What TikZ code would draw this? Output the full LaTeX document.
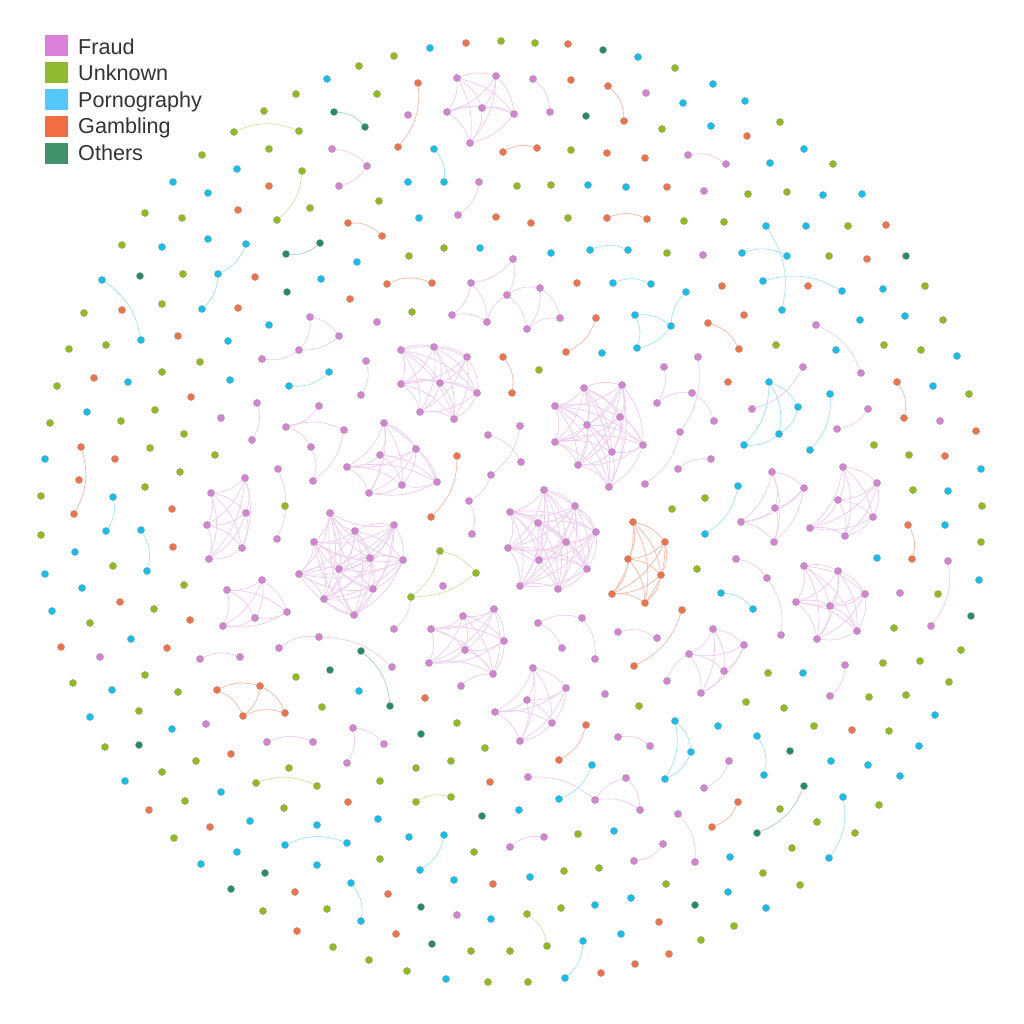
\documentclass[tikz,border=0pt]{standalone}
\usepackage{fontspec}
\setmainfont{Liberation Sans}
\definecolor{cF}{RGB}{214,128,214}
\definecolor{cU}{RGB}{146,188,20}
\definecolor{cP}{RGB}{8,194,242}
\definecolor{cG}{RGB}{246,112,70}
\definecolor{cO}{RGB}{34,140,102}
\definecolor{lF}{RGB}{218,128,218}
\definecolor{lU}{RGB}{144,186,50}
\definecolor{lP}{RGB}{85,200,250}
\definecolor{lG}{RGB}{240,110,65}
\definecolor{lO}{RGB}{64,146,108}
\pgfdeclarelayer{back}
\pgfdeclarelayer{bg}
\pgfsetlayers{back,bg,main}
\tikzset{
 dot/.style={circle,inner sep=0pt,minimum size=7.2pt,draw=black!35,line width=0.45pt},
 dF/.style={dot,fill=cF}, dU/.style={dot,fill=cU}, dP/.style={dot,fill=cP},
 dG/.style={dot,fill=cG}, dO/.style={dot,fill=cO},
 eF/.style={draw=cF!40,line width=0.7pt}, eU/.style={draw=cU!40,line width=0.7pt},
 eP/.style={draw=cP!40,line width=0.7pt}, eG/.style={draw=cG!50,line width=0.7pt},
 eO/.style={draw=cO!40,line width=0.7pt},
 lgbox/.style={inner sep=0pt,minimum width=22.3pt,minimum height=20.8pt,anchor=north west},
 lgtext/.style={inner sep=0pt,anchor=base west,text=black!80,font=\fontsize{21.6}{26}\selectfont}
}
\newcommand\fullgrp[3]{%
  \foreach [count=\k] \pp in {#3} {\node[d#2] (#1\k) at \pp {}; \xdef\mynn{\k}}%
  \begin{pgfonlayer}{bg}%
  \foreach \ii in {1,...,\mynn}{\foreach \jj in {1,...,\mynn}{\ifnum\ii<\jj\relax\draw[e#2] (#1\ii) to[bend left=18] (#1\jj);\fi}}%
  \end{pgfonlayer}}
\newcommand\edgegrp[4]{%
  \foreach [count=\k] \pp in {#3} {\node[d#2] (#1\k) at \pp {};}%
  \begin{pgfonlayer}{bg}%
  \foreach \ea/\eb in {#4} {\draw[e#2] (#1\ea) to[bend left=20] (#1\eb);}%
  \end{pgfonlayer}}
\begin{document}
\begin{tikzpicture}[x=1pt,y=-1pt]
\useasboundingbox (0,0) rectangle (1024,1024);
\begin{pgfonlayer}{back}\fill[white] (0,0) rectangle (1024,1024);\end{pgfonlayer}

% legend
\node[lgbox,fill=lF] (k1) at (45,34.7) {};
\node[lgbox,fill=lU] (k2) at (45,61.7) {};
\node[lgbox,fill=lP] (k3) at (45,88.7) {};
\node[lgbox,fill=lG] (k4) at (45,115.7) {};
\node[lgbox,fill=lO] (k5) at (45,142.7) {};
\node[lgtext] (t1) at (78,54.5) {Fraud};
\node[lgtext] (t2) at (78,80.9) {Unknown};
\node[lgtext] (t3) at (78,107.3) {Pornography};
\node[lgtext] (t4) at (78,133.7) {Gambling};
\node[lgtext] (t5) at (78,160.1) {Others};

% isolated dots
\foreach [count=\k] \x/\y/\st in {%
327/79/P, 296/94/U, 264/111/U, 269/149/U, 202/155/U, 237/169/P, 173/182/P, 208/193/P, 269/186/G, 238/210/G, 145/213/U, 182/218/U, 310/208/U, 122/245/U, 162/247/P, 208/239/P, 140/276/O, 183/274/U, 255/277/G, 321/279/P, 287/292/O, 84/313/U, 122/310/G, 162/304/U, 238/308/G, 269/325/P, 178/336/G, 228/341/P,
359/66/U, 394/56/U, 430/48/P, 466/43/G, 501/41/U, 535/43/U, 568/44/G, 603/50/O, 638/57/P, 675/68/U, 377/94/U, 408/115/F, 571/80/G, 646/93/F, 586/116/O, 662/129/U, 683/103/P, 571/150/U, 607/153/G, 645/158/G, 408/182/P, 517/186/U, 551/185/U, 588/185/P, 626/187/P, 667/187/G, 379/201/U, 419/218/P, 496/217/G, 531/223/G, 568/218/U, 684/221/U, 357/262/P, 409/256/U, 444/248/U, 480/248/P, 551/253/P, 667/253/U, 350/299/G, 412/312/U, 377/322/F, 577/283/G,
713/84/P, 745/101/P, 711/126/P, 780/122/U, 747/136/G, 804/149/P, 770/163/P, 833/164/U, 704/191/F, 748/194/U, 787/192/U, 823/195/P, 862/194/P, 724/222/U, 806/226/P, 848/226/U, 886/225/G, 703/255/F, 829/256/U, 867/259/G, 906/256/O, 722/286/G, 808/286/G, 883/289/P, 925/286/U, 744/315/G, 860/320/P, 905/316/P, 943/320/U, 776/345/U,
69/349/U, 106/345/U, 57/386/U, 94/378/G, 128/382/P, 162/372/U, 200/362/U, 230/380/P, 191/397/G, 87/412/P, 50/423/U, 121/421/U, 155/410/U, 184/434/U, 221/418/F, 45/459/P, 115/459/G, 79/480/G, 150/448/U, 180/472/U, 215/455/U, 41/496/U, 145/487/U, 172/509/G, 285/506/U, 41/535/U, 173/547/G, 75/552/P, 113/566/U, 45/574/P, 82/588/P, 184/585/U, 120/602/G, 154/609/U, 52/611/P, 190/620/G, 90/623/U, 61/647/G, 131/639/P, 167/648/G, 100/657/F, 145/675/U, 73/683/U, 296/677/U, 330/670/O,
539/370/U, 602/353/P, 672/509/U, 443/586/F,
836/350/P, 884/345/U, 921/350/U, 957/356/P, 728/382/G, 933/386/P, 969/394/U, 940/421/F, 976/431/G, 874/445/U, 909/455/U, 945/456/G, 981/469/P, 705/498/U, 913/490/U, 948/491/P, 982/506/U, 945/525/P, 981/542/U, 877/558/P, 697/569/U, 979/580/P, 900/593/F, 938/594/U, 971/616/O, 894/628/U, 961/650/U, 768/673/U, 803/673/P, 883/663/U, 920/661/U, 949/682/U,
112/690/P, 178/692/U, 322/707/U, 90/717/P, 139/711/U, 172/729/P, 206/724/F, 105/747/U, 139/745/O, 231/754/G, 196/761/U, 162/772/U, 289/768/U, 125/781/P, 221/792/P, 185/801/U, 149/810/G, 284/808/U, 250/821/P, 317/825/P, 210/827/G, 174/838/U, 237/852/P, 201/864/P, 317/865/P, 265/873/O, 231/889/O, 295/892/G, 263/911/U, 327/909/U, 297/931/G, 333/947/U,
359/691/P, 425/698/G, 605/694/F, 639/706/U, 421/734/O, 457/723/U, 485/748/U, 451/761/U, 416/768/U, 380/781/U, 490/782/G, 348/802/G, 378/819/P, 482/816/O, 519/810/P, 409/837/P, 474/852/U, 578/834/U, 614/831/P, 380/859/U, 454/880/P, 493/884/G, 530/877/P, 564/871/U, 599/868/U, 666/884/U, 388/894/G, 421/907/O, 457/915/F, 491/919/P, 561/908/U, 595/905/P, 631/898/P, 659/922/G, 396/934/G, 432/944/O, 471/951/U, 510/951/U, 621/934/P, 669/954/G, 369/960/U, 407/971/U, 446/979/P, 488/982/U, 528/982/U, 601/973/G, 635/964/G,
746/702/U, 784/708/U, 869/697/U, 906/695/U, 718/726/P, 814/726/U, 852/730/G, 889/731/U, 935/715/P, 790/751/O, 831/761/P, 868/765/P, 919/746/P, 900/776/P, 780/809/U, 879/805/U, 817/822/U, 855/833/U, 792/848/U, 730/857/P, 763/873/U, 800/885/U, 728/892/P, 695/905/O, 766/908/P, 734/926/U, 701/940/U} \node[d\st] (iso\k) at (\x,\y) {};

% pairs
\foreach [count=\k] \xa/\ya/\xb/\yb/\st in {%
334/112/365/127/O, 234/132/299/131/U, 302/171/277/220/U, 320/243/286/254/O, 102/280/141/340/P,
418/83/398/147/G, 533/79/550/112/F, 608/86/624/121/G, 434/149/444/182/P, 503/152/537/148/G,
479/182/458/215/F, 348/223/382/236/G, 607/218/647/219/G, 590/250/628/250/P, 387/284/432/283/G,
613/283/651/284/P, 596/318/566/352/G, 688/155/726/164/F, 766/226/782/310/P, 742/253/787/256/P,
763/281/842/291/P, 708/323/739/349/G, 816/325/861/373/F, 329/372/289/386/P, 257/403/252/440/F,
81/447/74/514/G, 113/497/106/531/P, 278/469/277/539/F, 141/530/147/571/P, 200/659/240/657/F,
366/361/361/395/F, 503/357/512/393/G, 457/456/431/517/G, 488/435/521/462/F, 361/651/390/706/O,
618/632/657/638/F, 682/610/634/666/G, 803/367/752/409/F, 830/394/810/450/P, 868/409/837/429/F,
897/382/904/418/G, 738/486/705/534/P, 908/525/912/559/G, 948/561/931/626/F, 721/593/753/609/P,
845/665/830/696/F, 267/742/313/742/F, 256/783/317/786/U, 285/845/347/843/P, 586/725/559/760/G,
618/737/650/746/F, 592/765/559/799/P, 416/802/451/797/U, 678/814/695/862/F, 444/835/420/870/P,
510/847/544/837/F, 663/844/634/861/F, 351/883/361/921/P, 527/914/547/946/U, 583/941/565/978/P,
757/736/764/775/P, 729/761/704/788/F, 804/786/757/833/O, 738/802/712/827/G, 843/797/829/858/P}{%
 \node[d\st] (pa\k) at (\xa,\ya) {};
 \node[d\st] (pb\k) at (\xb,\yb) {};
 \begin{pgfonlayer}{bg}\draw[e\st] (pa\k) to[bend left=22] (pb\k);\end{pgfonlayer}
}

% small groups with explicit links
\edgegrp{ga}{P}{(246,244),(218,274),(202,309)}{1/2,2/3}
\edgegrp{gb}{F}{(332,149),(367,166),(339,186)}{1/2,2/3}
\edgegrp{gc}{F}{(310,317),(339,336),(299,350),(262,359)}{1/2,1/3,3/4,2/3}
\edgegrp{gd}{F}{(513,259),(471,283),(507,295),(540,288),(452,315),(487,322),(527,329),(560,318)}{1/2,1/3,2/5,2/6,5/6,6/3,3/4,3/7,4/7,4/8,7/8}
\edgegrp{ge}{P}{(635,315),(671,326),(637,348),(686,292)}{1/2,1/3,2/4,2/3}
\edgegrp{gf}{F}{(319,406),(286,427),(344,430),(311,447),(313,481)}{1/2,2/3,2/4,4/5,3/5}
\edgegrp{gg}{F}{(664,367),(657,403),(692,393),(714,421),(698,357),(680,432),(645,484),(678,469),(711,459)}{1/2,2/3,3/4,5/6,6/7,8/9}
\edgegrp{gh}{F}{(520,426),(491,475),(469,501),(472,534)}{1/2,2/3,3/4}
\edgegrp{gi}{F}{(538,623),(582,618),(562,648),(595,659)}{1/2,1/3,2/4}
\edgegrp{gj}{P}{(769,382),(798,407),(779,434),(744,445)}{1/2,1/3,1/4,2/3,3/4}
\edgegrp{gk}{F}{(736,559),(767,578),(781,635)}{1/2,2/3}
\edgegrp{gl}{F}{(279,648),(319,637),(392,667)}{1/2,2/3}
\edgegrp{gm}{G}{(217,690),(260,686),(243,716),(285,713)}{1/2,1/3,2/3,2/4,3/4}
\edgegrp{gn}{F}{(353,728),(384,744),(347,763)}{1/2,1/3}
\edgegrp{go}{F}{(528,777),(595,800),(626,778),(640,810)}{1/2,2/3,3/4,2/4}
\edgegrp{gp}{P}{(675,721),(665,779),(691,752)}{1/2,1/3,3/2}

% dense clusters
\fullgrp{Ca}{F}{(457,78),(496,76),(447,112),(482,108),(514,114),(470,143)}
\fullgrp{Cl}{F}{(245,478),(211,493),(246,513),(207,525),(242,548),(209,559)}
\fullgrp{Cm}{F}{(262,580),(227,590),(287,612),(255,618),(223,626)}
\fullgrp{CA}{F}{(401,350),(434,347),(467,357),(401,384),(440,383),(477,393),(420,412),(454,419)}
\fullgrp{CB}{F}{(584,388),(622,385),(555,406),(620,417),(587,425),(555,442),(643,445),(612,452),(578,465),(609,487)}
\fullgrp{CC}{F}{(384,423),(416,449),(380,455),(347,467),(437,482),(402,485),(369,493)}
\fullgrp{CD}{F}{(544,490),(575,506),(510,512),(538,523),(596,532),(566,542),(508,548),(539,560),(587,569),(520,586),(558,589)}
\fullgrp{CO}{G}{(633,522),(665,542),(628,559),(661,575),(612,594),(645,603)}
\fullgrp{CE}{F}{(355,531),(394,525),(370,558),(403,560),(373,589),(354,615),(330,513),(314,542),(299,574),(339,569),(324,599)}
\fullgrp{CF}{F}{(494,609),(463,616),(431,629),(504,641),(465,650),(429,663),(493,674)}
\fullgrp{CG}{F}{(533,668),(566,688),(527,700),(495,712),(552,723),(520,741)}
\fullgrp{CH}{F}{(772,472),(804,488),(775,508),(741,522),(774,542)}
\fullgrp{CI}{F}{(843,467),(877,483),(838,500),(873,517),(810,528),(845,536)}
\fullgrp{CJ}{F}{(804,566),(838,571),(865,594),(796,602),(830,606),(857,631),(817,639)}
\fullgrp{CK}{F}{(713,629),(744,645),(689,654),(724,671),(701,693)}
\fullgrp{GT}{U}{(440,551),(476,573),(411,597)}

% single nodes tied to clusters
\node[dF] (sa) at (461,686) {};
\node[dF] (sb) at (667,681) {};
\node[dF] (sc) at (394,629) {};
\begin{pgfonlayer}{bg}
\draw[eF] (sa) to[bend left=20] (CF7);
\draw[eF] (sb) to[bend left=20] (CK3);
\draw[eF] (sc) to[bend right=20] (GT3);
\end{pgfonlayer}
\end{tikzpicture}
\end{document}
